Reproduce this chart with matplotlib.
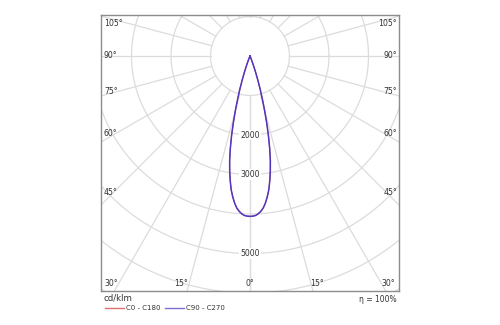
import numpy as np
import matplotlib
matplotlib.use('Agg')
import matplotlib.pyplot as plt

# Luminous intensity distribution (cd/klm) against gamma angle (deg)
gamma = [0, 1, 2, 3, 4, 5, 6, 7, 8, 9, 10, 11, 12,
         13, 14, 15, 16, 17, 18, 19, 20, 21, 22, 23, 24]
c0_c180 = [4060, 4055, 4040, 4000, 3940, 3860, 3740, 3590, 3420, 3200,
           2960, 2700, 2400, 2080, 1750, 1430, 1140, 880, 640, 440,
           270, 140, 60, 15, 0]
c90_c270 = [4060, 4055, 4040, 4000, 3940, 3860, 3740, 3590, 3420, 3200,
            2960, 2700, 2400, 2080, 1750, 1430, 1140, 880, 640, 440,
            270, 140, 60, 15, 0]

ring_values = [1000, 2000, 3000, 4000, 5000, 6000, 7000, 8000]
ring_labels = [2000, 3000, 5000]
spoke_angles = np.arange(0, 181, 15)

# angle labels along the frame
side_angles = [105, 90, 75, 60, 45]
side_y = [24, 56, 92, 134, 192]
bottom_angles = [30, 15, 0, 15, 30]
bottom_x = [111, 181, 250, 317, 388]

W, H = 500, 325
fig = plt.figure(figsize=(W / 100, H / 100), dpi=100, facecolor='white')

# frame in pixels
bx0, bx1, by0, by1 = 101, 399, 15, 291
cx, cy = 250, 56          # pole position (px)
scale = 39.5 / 1000       # px per cd/klm

ax = fig.add_axes([bx0 / W, 1 - by1 / H, (bx1 - bx0) / W, (by1 - by0) / H])
ax.set_xlim((bx0 - cx) / scale, (bx1 - cx) / scale)
ax.set_ylim((cy - by1) / scale, (cy - by0) / scale)
ax.set_xticks([])
ax.set_yticks([])
for s in ax.spines.values():
    s.set_color('#8c8c8c')
    s.set_linewidth(1.0)

grid_c = '#dcdcdc'
t = np.linspace(0, 2 * np.pi, 400)
for r in ring_values:
    ax.plot(r * np.cos(t), r * np.sin(t), color=grid_c, lw=0.9, zorder=1)

rmin, rmax = ring_values[0], 12000
for a in spoke_angles:
    for sgn in (-1, 1):
        th = np.radians(a)
        ax.plot([sgn * rmin * np.sin(th), sgn * rmax * np.sin(th)],
                [-rmin * np.cos(th), -rmax * np.cos(th)],
                color=grid_c, lw=0.9, zorder=1)

for v in ring_labels:
    ax.text(0, -v, str(v), ha='center', va='center', fontsize=5.6,
            color='#333333', zorder=3,
            bbox=dict(facecolor='white', edgecolor='none', pad=0.6))

# curves: right half C0 / C90, left half C180 / C270
g = np.radians(np.array(gamma))
gg = np.concatenate([-g[::-1], g[1:]])
for vals, col, lw in [(c0_c180, '#d94a4a', 0.7), (c90_c270, '#5236c2', 1.1)]:
    v = np.array(vals, dtype=float)
    vv = np.concatenate([v[::-1], v[1:]])
    ax.plot(vv * np.sin(gg), -vv * np.cos(gg), color=col, lw=lw,
            zorder=4, solid_joinstyle='round')

fs = 5.6
tc = '#333333'
for a, y in zip(side_angles, side_y):
    fig.text(104 / W, 1 - y / H, f'{a}°', ha='left', va='center',
             fontsize=fs, color=tc)
    fig.text(397 / W, 1 - y / H, f'{a}°', ha='right', va='center',
             fontsize=fs, color=tc)
for a, x in zip(bottom_angles, bottom_x):
    fig.text(x / W, 1 - 283 / H, f'{a}°', ha='center', va='center',
             fontsize=fs, color=tc)

# legend
fig.text(104 / W, 1 - 298 / H, 'cd/klm', ha='left', va='center',
         fontsize=6.2, color=tc)
fig.add_artist(plt.Line2D([105 / W, 124 / W], [1 - 308 / H] * 2,
                          color='#e07070', lw=1.0))
fig.text(126 / W, 1 - 308 / H, 'C0 - C180', ha='left', va='center',
         fontsize=5.0, color=tc)
fig.add_artist(plt.Line2D([165 / W, 184 / W], [1 - 308 / H] * 2,
                          color='#7a70d0', lw=1.0))
fig.text(186 / W, 1 - 308 / H, 'C90 - C270', ha='left', va='center',
         fontsize=5.0, color=tc)
fig.text(397 / W, 1 - 299 / H, 'η = 100%', ha='right', va='center',
         fontsize=5.5, color=tc)

fig.savefig('out.png', dpi=100, facecolor='white')
